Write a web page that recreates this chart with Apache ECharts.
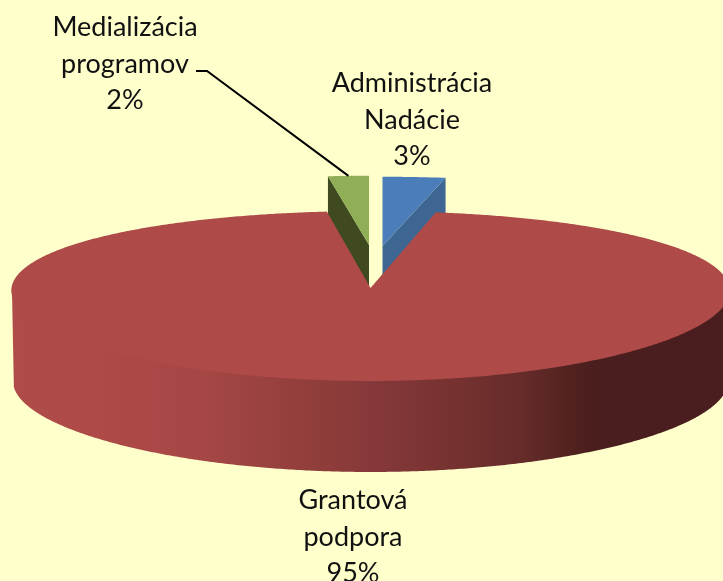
<!DOCTYPE html>
<html>
<head>
<meta charset="utf-8">
<style>html,body{margin:0;padding:0;background:#FFFFCC}#c{width:723px;height:581px}</style>
<script src="https://cdn.jsdelivr.net/npm/echarts@6/dist/echarts.min.js"></script>
</head>
<body>
<div id="c"></div>
<script>
// Data, clockwise from twelve o'clock
var categories = ['Administrácia\nNadácie', 'Grantová\npodpora', 'Medializácia\nprogramov'];
var values = [3, 95, 2];

// Styles and layout
var topColors = ['#4A7DB9', '#AE4A48', '#90AE56'];
var wallColors = ['#3E6692', null, '#404A20'];
var labelCenters = [[412, 120], [353, 537], [125, 64]];
var explode = [
  { dx: 12, dy: -42, sx: 0.965, sy: 0.9 },
  { dx: 0, dy: 0, sx: 1, sy: 1 },
  { dx: -1.5, dy: -43, sx: 0.94, sy: 0.9 }
];
var pie = { cx: 370.5, cy: 288, rx: 359, ry: 84.2, perspX: 0.03, perspY: 0.0943, depth: 91, bottomScale: 0.995, sliceDepth: 60 };
var leaderStart = [[196, 71], [207, 71]];

var total = values.reduce(function (a, b) { return a + b; }, 0);

function rim(theta, ex) {
  var u = Math.sin(theta), v = -Math.cos(theta);
  return [pie.cx + ex.dx + ex.sx * pie.rx * u / (1 - pie.perspX * v),
          pie.cy + ex.dy + ex.sy * pie.ry * v / (1 - pie.perspY * v)];
}
function arc(a0, a1, ex) {
  var pts = [], n = Math.max(4, Math.ceil(Math.abs(a1 - a0) / 0.008));
  for (var i = 0; i <= n; i++) pts.push(rim(a0 + (a1 - a0) * i / n, ex));
  return pts;
}
function sliceAngles(idx) {
  var sum = 0;
  for (var i = 0; i < idx; i++) sum += values[i];
  return [sum / total * 2 * Math.PI, (sum + values[idx]) / total * 2 * Math.PI];
}

function renderItem(params, api) {
  var i = params.dataIndex, ex = explode[i], ang = sliceAngles(i);
  var apex = [pie.cx + ex.dx, pie.cy + ex.dy];
  var children = [];
  var isMain = api.value(0) === Math.max.apply(null, values);

  if (isMain) {
    var a0 = Math.acos(-pie.perspY), a1 = 2 * Math.PI - a0;
    var front = arc(a0, a1, ex);
    var lower = front.map(function (p) {
      return [pie.cx + (p[0] - pie.cx) * pie.bottomScale, p[1] + pie.depth];
    }).reverse();
    children.push({
      type: 'polygon', z2: 10,
      shape: { points: [front[0], front[front.length - 1]].concat(lower) },
      style: {
        fill: new echarts.graphic.LinearGradient(14, 0, 723, 0, [
          { offset: 0, color: '#AF4B49' },
          { offset: 0.12, color: '#AE4A48' },
          { offset: 0.262, color: '#A64745' },
          { offset: 0.403, color: '#933F3B' },
          { offset: 0.502, color: '#86393A' },
          { offset: 0.615, color: '#773230' },
          { offset: 0.714, color: '#662C2A' },
          { offset: 0.798, color: '#4E201E' },
          { offset: 0.826, color: '#4A1E1E' },
          { offset: 1, color: '#4A1E1E' }
        ], true)
      }
    });
    children.push({
      type: 'polygon', z2: 11,
      shape: { points: [apex].concat(arc(ang[0], ang[1], ex)) },
      style: { fill: topColors[i] }
    });
  } else {
    var cuts = [ang[0], ang[1]];
    cuts.forEach(function (c) {
      var r = rim(c, ex);
      children.push({
        type: 'polygon', z2: 2,
        shape: { points: [apex, r, [r[0], r[1] + pie.sliceDepth], [apex[0], apex[1] + pie.sliceDepth]] },
        style: { fill: wallColors[i] }
      });
    });
    children.push({
      type: 'polygon', z2: 3,
      shape: { points: [apex].concat(arc(ang[0], ang[1], ex)) },
      style: { fill: topColors[i] }
    });
  }

  children.push({
    type: 'text', z2: 30,
    style: {
      text: categories[i] + '\n' + api.value(0) + '%',
      x: labelCenters[i][0], y: labelCenters[i][1],
      align: 'center', verticalAlign: 'middle',
      fontFamily: 'Lato', fontSize: 27, lineHeight: 36.5, fill: '#111111'
    }
  });

  if (i === values.length - 1) {
    children.push({
      type: 'polyline', z2: 20,
      shape: { points: leaderStart.concat([rim((ang[0] + ang[1]) / 2, ex)]) },
      style: { stroke: '#000', lineWidth: 2, fill: null }
    });
  }
  return { type: 'group', children: children };
}

var chart = echarts.init(document.getElementById('c'), null, { renderer: 'canvas' });
chart.setOption({
  backgroundColor: '#FFFFCC',
  animation: false,
  series: [{
    type: 'custom',
    coordinateSystem: 'none',
    silent: true,
    clip: false,
    data: values.map(function (v) { return [v]; }),
    renderItem: renderItem
  }]
});
</script>
</body>
</html>
